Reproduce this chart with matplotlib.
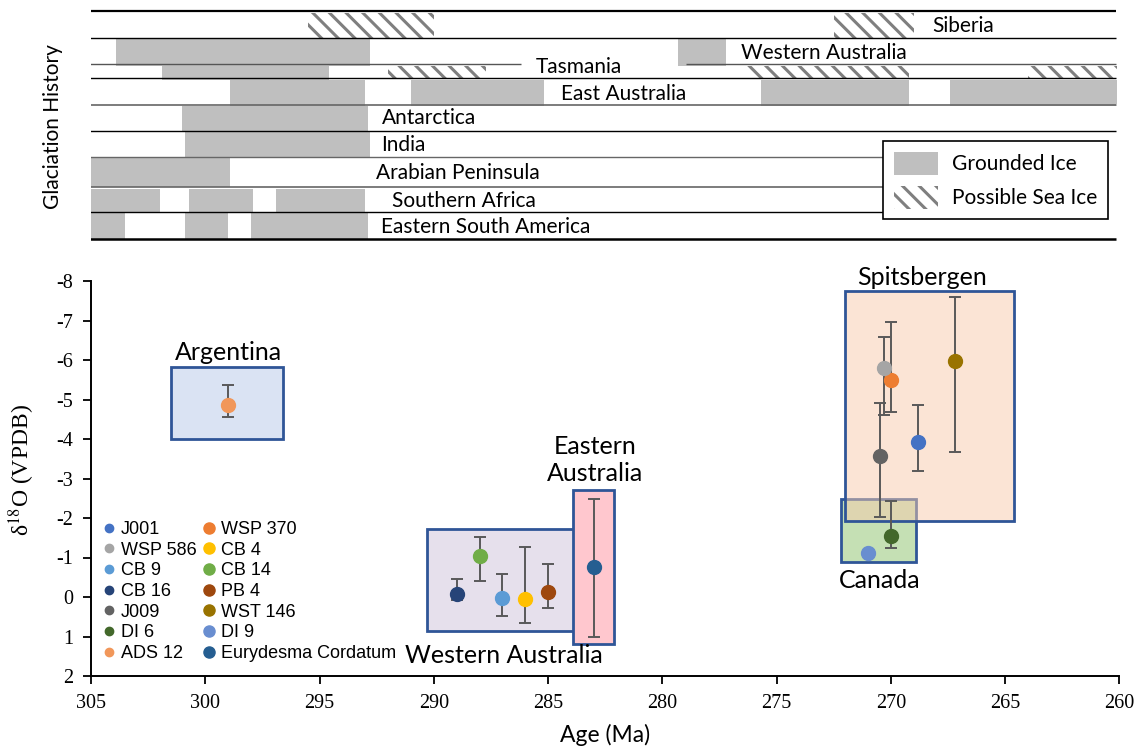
import matplotlib
matplotlib.use("Agg")
import matplotlib.pyplot as plt
from matplotlib.patches import Rectangle, Patch
from matplotlib.lines import Line2D
from matplotlib.colors import to_rgba

plt.rcParams['mathtext.fontset'] = 'stix'
plt.rcParams['hatch.linewidth'] = 2.2
plt.rcParams['axes.unicode_minus'] = False

# ---- glaciation history (age ranges, Ma: old -> young) ----
siberia_sea = [(295.5, 290.0), (272.5, 269.0)]
wa_ground = [(303.9, 292.8), (279.3, 277.2)]
tas_ground = [(301.9, 294.6)]
tas_sea = [(292.0, 287.7), (276.3, 269.2), (264.0, 260.1)]
eaus_ground = [(298.9, 293.0), (291.0, 285.2), (275.7, 269.2), (267.4, 260.1)]
antarctica_ground = [(301.0, 292.9)]
india_ground = [(300.9, 292.8)]
arabia_ground = [(305.0, 298.9)]
safrica_ground = [(305.0, 302.0), (300.7, 297.9), (296.9, 293.0)]
esa_ground = [(305.0, 303.5), (300.9, 299.0), (298.0, 292.9)]

row_names = ['Siberia', 'Western Australia', 'Tasmania', 'East Australia', 'Antarctica',
             'India', 'Arabian Peninsula', 'Southern Africa', 'Eastern South America']

# ---- d18O samples ----
samples = ['J001', 'WSP 370', 'WSP 586', 'CB 4', 'CB 9', 'CB 14', 'CB 16', 'PB 4',
           'J009', 'WST 146', 'DI 6', 'DI 9', 'ADS 12', 'Eurydesma Cordatum']
ages = [268.8, 270.0, 270.3, 286.0, 287.0, 288.0, 289.0, 285.0,
        270.5, 267.2, 270.0, 271.0, 299.0, 283.0]
d18o = [-3.92, -5.50, -5.81, 0.06, 0.03, -1.03, -0.07, -0.12,
        -3.57, -5.97, -1.54, -1.12, -4.86, -0.75]
d18o_lo = [-4.86, -6.96, -6.59, -1.27, -0.59, -1.52, -0.45, -0.83,
           -4.92, -7.60, -2.43, -1.12, -5.37, -2.47]
d18o_hi = [-3.19, -4.68, -4.60, 0.65, 0.48, -0.40, 0.07, 0.29,
           -2.03, -3.67, -1.25, -1.12, -4.55, 1.01]
colors = ['#4472c4', '#ed7d31', '#a5a5a5', '#ffc000', '#5b9bd5', '#70ad47', '#264478', '#9e480e',
          '#636363', '#997300', '#43682b', '#698ed0', '#f1975a', '#255e91']

# ---- region boxes ----
regions = ['Argentina', 'Western Australia', 'Eastern Australia', 'Canada', 'Spitsbergen']
box_old = [301.5, 290.3, 283.9, 272.2, 272.0]
box_young = [296.6, 283.8, 282.1, 268.9, 264.6]
box_lo = [-5.83, -1.72, -2.72, -2.49, -7.75]
box_hi = [-3.99, 0.86, 1.18, -0.88, -1.92]
box_fill = ['#dae3f3', '#e6e0ec', '#ffc7ce', '#c5e0b4', to_rgba('#f8cbad', 0.5)]

W, H = 1143, 749
fig = plt.figure(figsize=(W / 100, H / 100), dpi=100)

# ================= top panel =================
axt = fig.add_axes([91 / W, 1 - 245 / H, (1119.5 - 91) / W, 245 / H])
axt.set_xlim(305, 260)
axt.set_ylim(245, 0)
axt.axis('off')

grey = '#bfbfbf'
hatch_col = '#7f7f7f'

def bars(ranges, band, sea=False):
    xr = [(young, old - young) for old, young in ranges]
    if sea:
        axt.broken_barh(xr, band, facecolor='white', edgecolor=hatch_col,
                        hatch='\\\\', linewidth=0, zorder=1)
    else:
        axt.broken_barh(xr, band, facecolor=grey, edgecolor='none', zorder=1)

bars(siberia_sea, (12.7, 25), sea=True)
bars(wa_ground, (39.3, 26.7))
bars(tas_ground, (66, 14))
bars(tas_sea, (65.7, 13), sea=True)
bars(eaus_ground, (80, 26))
bars(antarctica_ground, (106, 24.7))
bars(india_ground, (130.7, 27))
bars(arabia_ground, (158.3, 28.4))
bars(safrica_ground, (189, 23.3))
bars(esa_ground, (213.3, 26.7))

full = (305.04, 260.14)
lines = [(11, full, 'black', 1.6), (37.7, full, 'black', 1.0),
         (64.3, (305.04, 286.17), '#555555', 1.0), (64.3, (278.95, 260.14), '#555555', 1.0),
         (78.3, full, 'black', 1.0), (105, full, '#666666', 1.2), (130.7, full, 'black', 1.0),
         (156.7, (305.04, 270.33), '#666666', 1.0), (186.7, (305.04, 270.33), '#666666', 1.2),
         (212.3, (305.04, 270.33), 'black', 1.0), (239, full, 'black', 1.8)]
for y, (x0, x1), c, lw in lines:
    axt.hlines(y, x0, x1, colors=c, linewidth=lw, zorder=2)

lab_pos = [(268.21, 26), (276.55, 53), (285.54, 67), (284.42, 94), (292.29, 118),
           (292.29, 145), (292.51, 173), (291.85, 201), (292.32, 227)]
for name, (x, y) in zip(row_names, lab_pos):
    axt.text(x, y, name, ha='left', va='center', fontsize=15, family='Lato', zorder=3)

leg_top = axt.legend(handles=[Patch(facecolor=grey, edgecolor='none', label='Grounded Ice'),
                              Patch(facecolor='white', edgecolor=hatch_col, hatch='\\\\',
                                    linewidth=0, label='Possible Sea Ice')],
                     loc='upper left', bbox_to_anchor=(270.33, 141.3),
                     bbox_transform=axt.transData, borderaxespad=0, borderpad=0.5,
                     handlelength=2.1, handleheight=1.35, handletextpad=0.7,
                     labelspacing=0.5, fancybox=False, framealpha=1,
                     edgecolor='black', prop={'family': 'Lato', 'size': 15})
leg_top.get_frame().set_linewidth(1.2)
leg_top.set_zorder(5)

fig.text(53 / W, 1 - 127 / H, 'Glaciation History', rotation=90, ha='center', va='center',
         fontsize=15, family='Lato')

# ================= bottom panel =================
ax = fig.add_axes([91 / W, 1 - 676 / H, (1119.5 - 91) / W, (676 - 281) / H])
ax.set_xlim(305, 260)
ax.set_ylim(2, -8)
ax.set_xticks(range(305, 259, -5))
ax.set_yticks(range(-8, 3))
for s in ['top', 'right']:
    ax.spines[s].set_visible(False)
for s in ['left', 'bottom']:
    ax.spines[s].set_linewidth(1.4)
ax.tick_params(direction='out', length=6, width=1.3, pad=7, labelsize=14.5)
for t in ax.get_xticklabels() + ax.get_yticklabels():
    t.set_family('Liberation Serif')

for i in range(len(regions)):
    ax.add_patch(Rectangle((box_young[i], box_lo[i]), box_old[i] - box_young[i],
                           box_hi[i] - box_lo[i], facecolor=box_fill[i],
                           edgecolor='#2f5597', linewidth=2, zorder=1 + 0.1 * i))

reg_lab = {'Argentina': (299.0, -6.2), 'Western Australia': (286.94, 1.47),
           'Eastern Australia': (282.96, -3.46), 'Canada': (270.5, -0.42),
           'Spitsbergen': (268.66, -8.08)}
for name in regions:
    x, y = reg_lab[name]
    txt = 'Eastern\nAustralia' if name == 'Eastern Australia' else name
    ax.text(x, y, txt, ha='center', va='center', fontsize=18, family='Lato',
            linespacing=1.2, clip_on=False, zorder=6)

for i in range(len(samples)):
    ax.errorbar(ages[i], d18o[i],
                yerr=[[d18o[i] - d18o_lo[i]], [d18o_hi[i] - d18o[i]]],
                fmt='none', ecolor='#595959', elinewidth=1.4, capsize=4.5,
                capthick=1.4, zorder=3)
    ax.plot(ages[i], d18o[i], 'o', color=colors[i], ms=10, mec=colors[i], zorder=4)

# legend: Excel order is row-wise, matplotlib fills columns
order = list(range(0, 14, 2)) + list(range(1, 14, 2))
handles = [Line2D([], [], ls='none', marker='o', color=colors[k],
                  ms=6 if k % 2 == 0 else 8, label=samples[k]) for k in order]
ax.legend(handles=handles, ncol=2, loc='upper left', bbox_to_anchor=(304.55, -1.92),
          bbox_transform=ax.transData, borderaxespad=0, borderpad=0, frameon=False,
          handlelength=0.8, handletextpad=0.3, columnspacing=0.25, labelspacing=0.2,
          prop={'family': 'Liberation Sans', 'size': 13})

fig.text(21.7 / W, 1 - 470 / H, 'δ$^{18}$O (VPDB)', rotation=90, ha='center', va='center',
         fontsize=17, family='Liberation Serif')
fig.text(605 / W, 1 - 735 / H, 'Age (Ma)', ha='center', va='center', fontsize=16.5,
         family='Lato')

fig.savefig('out.png', dpi=100)
